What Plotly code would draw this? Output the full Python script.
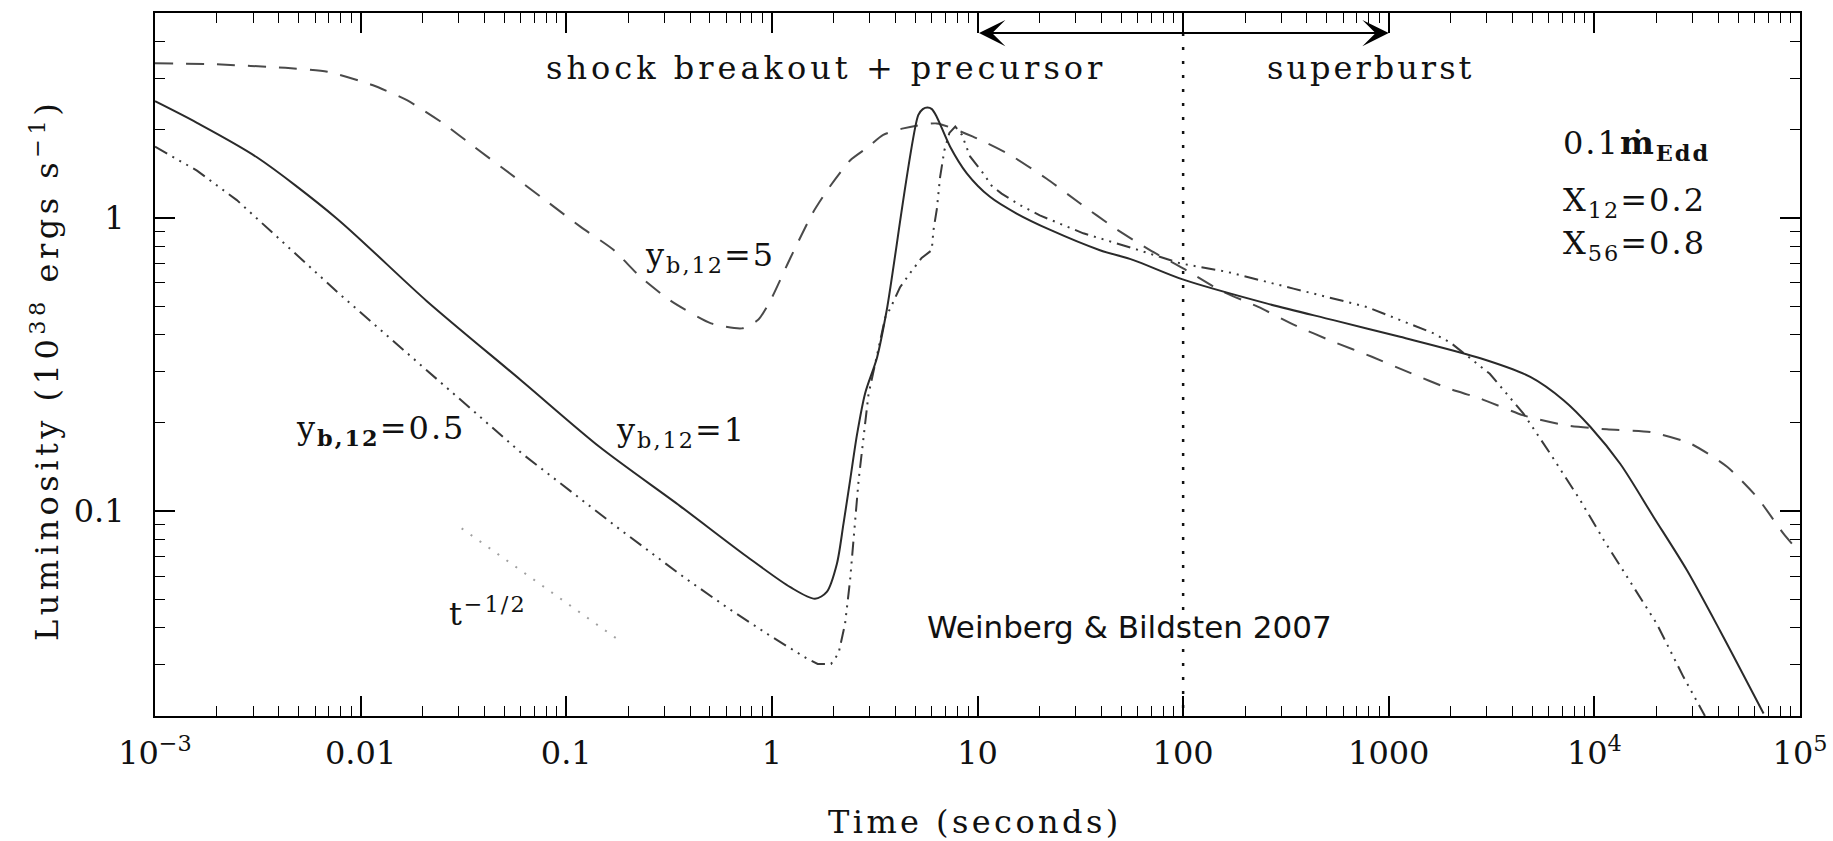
import math
import plotly.graph_objects as go

# ---------------- data ----------------
# y_b,12 = 1 (solid)
t_yb1 = [0.001, 0.0016, 0.00313, 0.0076, 0.021, 0.06, 0.146, 0.358, 0.755, 1.23, 1.62, 1.85,
         2.07, 2.23, 2.4, 2.6, 2.84, 3.25, 3.62, 5.15, 5.42, 5.71, 6.0, 6.34, 7.36, 8.87, 11.5,
         15.5, 22.6, 39.4, 57.3, 99.5, 254, 538, 1135, 2790, 4880, 7080, 9550, 13350, 19400,
         28200, 40900, 66500]
L_yb1 = [2.5, 2.11, 1.61, 1.0, 0.52, 0.28, 0.165, 0.104, 0.070, 0.055, 0.0502, 0.053,
         0.066, 0.0906, 0.127, 0.184, 0.252, 0.335, 0.485, 2.24, 2.35, 2.38, 2.35, 2.21, 1.75, 1.42, 1.18,
         1.035, 0.91, 0.776, 0.718, 0.617, 0.511, 0.448, 0.393, 0.332, 0.287, 0.239, 0.194, 0.145, 0.0955,
         0.0628, 0.039, 0.0204]

# y_b,12 = 5 (dashed)
t_yb5 = [0.001, 0.002, 0.0043, 0.0069, 0.0114, 0.0168, 0.025, 0.0356, 0.053, 0.079, 0.118, 0.169,
         0.229, 0.324, 0.506, 0.716, 0.86, 0.98, 1.23, 1.58, 1.9, 2.4, 2.89, 3.48, 4.36, 6.34, 9.55,
         14.4, 21.7, 31.6, 45.8, 69, 100, 151, 232, 351, 538, 828, 1271, 1950, 2790, 4520, 7350,
         11500, 18700, 29300, 44200, 61700, 83100, 100000]
L_yb5 = [3.37, 3.34, 3.25, 3.15, 2.84, 2.52, 2.11, 1.75, 1.42, 1.15, 0.93, 0.78,
         0.63, 0.52, 0.437, 0.42, 0.45, 0.52, 0.73, 1.04, 1.27, 1.57, 1.73, 1.92, 2.02, 2.1, 1.89,
         1.64, 1.36, 1.12, 0.93, 0.776, 0.673, 0.567, 0.497, 0.43, 0.378, 0.336, 0.296, 0.262, 0.242,
         0.212, 0.196, 0.19, 0.186, 0.170, 0.1416, 0.1117, 0.0838, 0.072]

# y_b,12 = 0.5 (dash-dot-dot-dot)
t_yb05 = [0.001, 0.0016, 0.0025, 0.0079, 0.061, 0.177, 0.372, 0.603, 0.944, 1.48, 1.67, 1.94,
          2.11, 2.27, 2.4, 2.54, 2.64, 2.95, 3.56, 3.76, 4.2, 4.79, 5.35, 5.99, 6.11, 6.34, 6.58,
          6.9, 7.3, 7.8, 8.4, 9.2, 10.5, 11.7, 13.1, 16.1, 20.1, 32.7, 57.3, 96.6, 163, 344, 782,
          1652, 2000, 3100, 4520, 6100, 8530, 11070, 14380, 20100, 27100, 32700, 34500]
L_yb05 = [1.75, 1.45, 1.15, 0.55, 0.157, 0.088, 0.0596, 0.047, 0.0382, 0.0314, 0.0301, 0.0301,
          0.0327, 0.0413, 0.058, 0.0906, 0.127, 0.25, 0.458, 0.49, 0.58, 0.66, 0.73, 0.776, 0.91,
          1.07, 1.38, 1.70, 1.95, 2.05, 1.92, 1.62, 1.44, 1.29, 1.21, 1.106, 1.02, 0.886, 0.787,
          0.70, 0.655, 0.574, 0.497, 0.404, 0.375, 0.294, 0.215, 0.157, 0.109, 0.080, 0.0596,
          0.0413, 0.0272, 0.0214, 0.02]

# t^-1/2 reference slope
t_slope = [0.031, 0.181]
L_slope = [0.0873, 0.0362]

# phase divider at 100 s and arrow between 10 s and 1000 s
t_divider = [100, 100]
L_divider = [4.27, 0.02]
t_arrow = [10, 1000]
L_arrow = 4.27

x_tickvals = [1e-3, 1e-2, 1e-1, 1, 10, 100, 1000, 1e4, 1e5]
x_ticktext = ["10<sup>\u22123</sup>", "0.01", "0.1", "1", "10", "100", "1000",
              "10<sup>4</sup>", "10<sup>5</sup>"]
y_tickvals = [0.1, 1]
y_ticktext = ["0.1", "1"]

x_minor = [k * 10.0 ** e for e in range(-3, 5) for k in range(2, 10)]
y_minor = [v for v in (k * 10.0 ** e for e in (-2, -1, 0) for k in range(2, 10))
           if 0.0199 <= v <= 5.01]

SERIF = "DejaVu Serif"
INK = "#111111"


def sp(text, ls):
    return '<span style="letter-spacing:%spx">%s</span>' % (ls, text)


fig = go.Figure()

fig.add_trace(go.Scatter(x=t_yb5, y=L_yb5, mode="lines",
                         line=dict(color="#4a4a4a", width=2, dash="18px,13px",
                                   shape="spline", smoothing=0.6)))
fig.add_trace(go.Scatter(x=t_yb05, y=L_yb05, mode="lines",
                         line=dict(color="#3a3a3a", width=2,
                                   dash="14px,6px,2px,6px,2px,6px,2px,6px")))
fig.add_trace(go.Scatter(x=t_yb1, y=L_yb1, mode="lines",
                         line=dict(color="#2a2a2a", width=2, shape="spline", smoothing=0.8)))
fig.add_trace(go.Scatter(x=t_slope, y=L_slope, mode="lines",
                         line=dict(color="#a0a0a0", width=2, dash="2px,9px")))
fig.add_trace(go.Scatter(x=t_divider, y=L_divider, mode="lines",
                         line=dict(color="#111111", width=2.5, dash="3px,11px")))

ann = []
# double arrow
ann.append(dict(x=math.log10(t_arrow[1]), y=math.log10(L_arrow),
                ax=math.log10(t_arrow[0]), ay=math.log10(L_arrow),
                xref="x", yref="y", axref="x", ayref="y", text="",
                showarrow=True, arrowhead=3, startarrowhead=3, arrowside="end+start",
                arrowsize=2.2, startarrowsize=2.2, arrowwidth=2, arrowcolor="#000000",
                standoff=0, startstandoff=0))


def label(text, xl, yl, anchor="left", size=32, family=SERIF):
    ann.append(dict(x=xl, y=yl, xref="x", yref="y", text=text, showarrow=False,
                    xanchor=anchor, yanchor="middle",
                    font=dict(family=family, size=size, color=INK)))


label(sp("shock breakout + precursor", 4), 0.2636, 0.511, anchor="center")
label(sp("superburst", 3), 2.9095, 0.511, anchor="center")
label(sp("0.1<b>\u1e41</b><sub><b>Edd</b></sub>", 2), 3.838, 0.248)
label(sp("X<sub>12</sub>=0.2", 2), 3.838, 0.054)
label(sp("X<sub>56</sub>=0.8", 2), 3.838, -0.093)
label(sp("y<sub>b,12</sub>=5", 2), -0.6265, -0.134)
label(sp("y<sub><b>b,12</b></sub>=0.5", 2), -2.324, -0.724)
label(sp("y<sub>b,12</sub>=1", 2), -0.768, -0.731)
label(sp("t<sup>\u22121/2</sup>", 2), -1.58, -1.345)
label("Weinberg &amp; Bildsten 2007", 0.745, -1.397, size=31, family="DejaVu Sans")

# axis titles
ann.append(dict(x=(975 - 155) / 1645, y=(716 - 822) / 703, xref="paper", yref="paper",
                text=sp("Time (seconds)", 3.4), showarrow=False, xanchor="center",
                yanchor="middle", font=dict(family=SERIF, size=32, color=INK)))
ann.append(dict(x=(45 - 155) / 1645, y=(716 - 370) / 703, xref="paper", yref="paper",
                text=sp("Luminosity (10<sup>38</sup> ergs s<sup>\u22121</sup>)", 4.5),
                showarrow=False, textangle=-90, xanchor="center", yanchor="middle",
                font=dict(family=SERIF, size=32, color=INK)))

axis_common = dict(type="log", showgrid=False, zeroline=False, showline=True,
                   linecolor="#000000", linewidth=2, mirror="allticks",
                   ticks="inside", ticklen=20, tickwidth=1.6, tickcolor="#000000",
                   automargin=False,
                   tickfont=dict(family=SERIF, size=32, color=INK))

fig.update_xaxes(**axis_common, range=[-3, 5], tickmode="array",
                 tickvals=x_tickvals, ticktext=x_ticktext, ticklabelstandoff=8,
                 minor=dict(tickmode="array", tickvals=x_minor, ticks="inside", ticklen=10,
                            tickwidth=1.4, tickcolor="#000000", showgrid=False))
fig.update_yaxes(**axis_common, range=[math.log10(0.02), math.log10(5)], tickmode="array",
                 tickvals=y_tickvals, ticktext=y_ticktext, ticklabelstandoff=22,
                 minor=dict(tickmode="array", tickvals=y_minor, ticks="inside", ticklen=10,
                            tickwidth=1.4, tickcolor="#000000", showgrid=False))

fig.update_layout(width=1833, height=841, showlegend=False,
                  margin=dict(l=155, r=33, t=13, b=125),
                  paper_bgcolor="white", plot_bgcolor="white",
                  annotations=ann)

fig.write_html("out.html")
